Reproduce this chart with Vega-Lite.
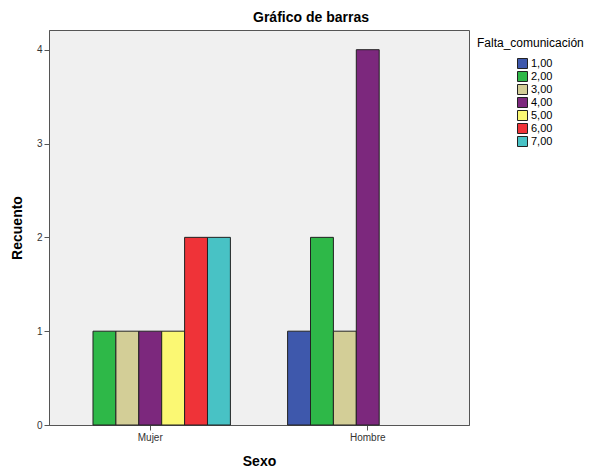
{
  "$schema": "https://vega.github.io/schema/vega-lite/v6.json",
  "autosize": "none",
  "padding": {"left": 49, "top": 30, "right": 125, "bottom": 45},
  "width": 420,
  "height": 395,
  "background": "white",
  "title": {
    "text": "Gráfico de barras",
    "font": "Liberation Sans",
    "fontSize": 14,
    "fontWeight": "bold",
    "color": "#000000",
    "anchor": "middle",
    "dx": 52,
    "offset": 5
  },
  "data": {
    "values": [
      {"Sexo": "Mujer", "Falta": "2,00", "Recuento": 1},
      {"Sexo": "Mujer", "Falta": "3,00", "Recuento": 1},
      {"Sexo": "Mujer", "Falta": "4,00", "Recuento": 1},
      {"Sexo": "Mujer", "Falta": "5,00", "Recuento": 1},
      {"Sexo": "Mujer", "Falta": "6,00", "Recuento": 2},
      {"Sexo": "Mujer", "Falta": "7,00", "Recuento": 2},
      {"Sexo": "Hombre", "Falta": "1,00", "Recuento": 1},
      {"Sexo": "Hombre", "Falta": "2,00", "Recuento": 2},
      {"Sexo": "Hombre", "Falta": "3,00", "Recuento": 1},
      {"Sexo": "Hombre", "Falta": "4,00", "Recuento": 4}
    ]
  },
  "mark": {"type": "bar", "stroke": "#222222", "strokeWidth": 1},
  "encoding": {
    "x": {
      "field": "Sexo",
      "type": "nominal",
      "sort": ["Mujer", "Hombre"],
      "scale": {"paddingInner": 0.263, "paddingOuter": 0.097},
      "axis": {
        "title": "Sexo",
        "labelAngle": 0,
        "labelFont": "Liberation Sans",
        "labelFontSize": 10,
        "labelColor": "#333333",
        "titleFont": "Liberation Sans",
        "titleFontSize": 14,
        "titleFontWeight": "bold",
        "titleColor": "#000000",
        "titlePadding": 12,
        "domainColor": "#555555",
        "tickColor": "#555555",
        "tickSize": 5,
        "labelPadding": 2
      }
    },
    "xOffset": {
      "field": "Falta",
      "type": "nominal",
      "scale": {"domain": ["1,00", "2,00", "3,00", "4,00", "5,00", "6,00", "7,00"], "paddingInner": 0, "paddingOuter": 0}
    },
    "y": {
      "field": "Recuento",
      "type": "quantitative",
      "scale": {"domain": [0, 4.21], "nice": false},
      "axis": {
        "title": "Recuento",
        "values": [0, 1, 2, 3, 4],
        "grid": false,
        "labelFont": "Liberation Sans",
        "labelFontSize": 10,
        "labelColor": "#333333",
        "titleFont": "Liberation Sans",
        "titleFontSize": 14,
        "titleFontWeight": "bold",
        "titleColor": "#000000",
        "titlePadding": 12,
        "domainColor": "#555555",
        "tickColor": "#555555",
        "tickSize": 5,
        "labelPadding": 2
      }
    },
    "color": {
      "field": "Falta",
      "type": "nominal",
      "scale": {
        "domain": ["1,00", "2,00", "3,00", "4,00", "5,00", "6,00", "7,00"],
        "range": ["#3E58AC", "#2EB848", "#D3CE97", "#7C287D", "#FBF873", "#EF3338", "#48C2C5"]
      },
      "legend": {
        "title": "Falta_comunicación",
        "orient": "none",
        "legendX": 428,
        "legendY": 8,
        "titleFont": "Liberation Sans",
        "titleFontSize": 12,
        "titleFontWeight": "normal",
        "titleColor": "#000000",
        "titlePadding": 8,
        "labelFont": "Liberation Sans",
        "labelFontSize": 11,
        "labelColor": "#000000",
        "labelOffset": 3,
        "symbolType": "square",
        "symbolSize": 100,
        "symbolStrokeColor": "#222222",
        "symbolStrokeWidth": 1,
        "symbolOffset": 40,
        "rowPadding": -2.3
      }
    }
  },
  "config": {
    "view": {"fill": "#F0F0F0", "stroke": "#555555", "strokeWidth": 1}
  }
}
